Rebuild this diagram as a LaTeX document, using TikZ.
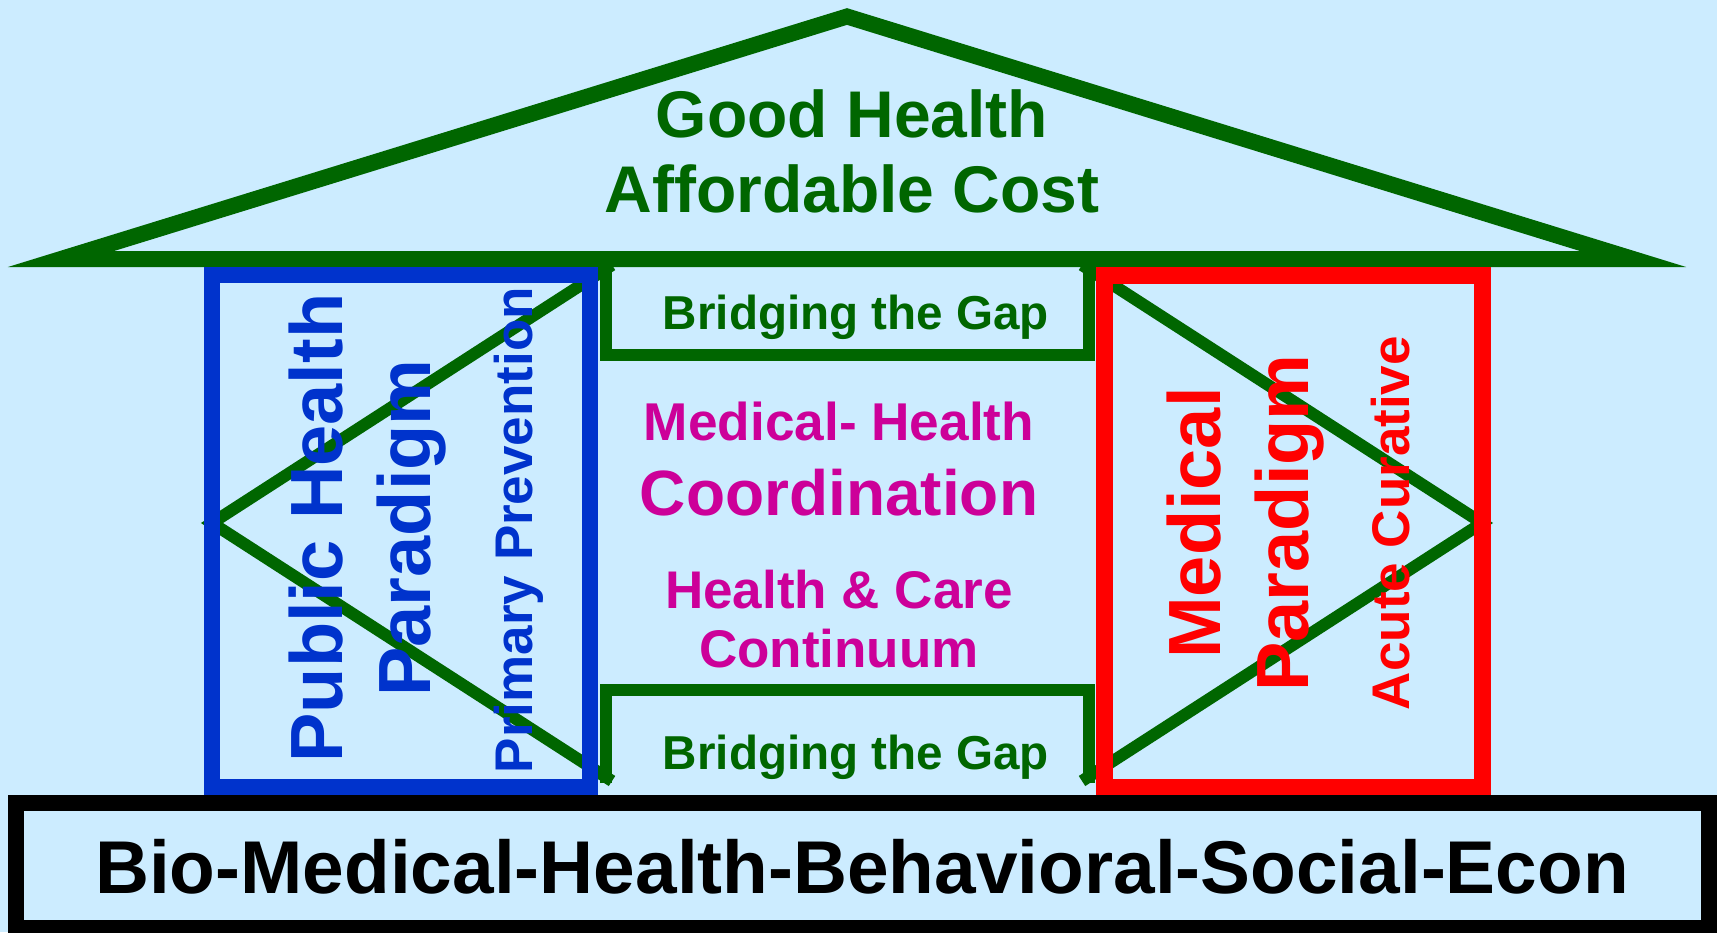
\documentclass[tikz,border=0pt]{standalone}
\usepackage{fontspec}
\setmainfont{Liberation Sans}
\definecolor{skybg}{RGB}{204,236,255}
\definecolor{roofgreen}{RGB}{0,102,0}
\definecolor{phblue}{RGB}{0,51,204}
\definecolor{medred}{RGB}{255,0,0}
\definecolor{coordmag}{RGB}{204,0,153}
\newcommand\pxfont[1]{\bfseries\fontsize{#1}{#1}\selectfont}
\tikzset{
  lbl/.style={anchor=base, inner sep=0pt},
  vlbl/.style={lbl, rotate=90},
  zig/.style={roofgreen, line width=6pt},
  bridge/.style={roofgreen, line width=6pt},
}
\begin{document}
\begin{tikzpicture}[x=0.5pt,y=-0.5pt]
\fill[skybg] (0,0) rectangle (1717,932);
\useasboundingbox (0,0) rectangle (1717,932);
\coordinate (phtop) at (612,265);
\coordinate (phtip) at (212,523);
\coordinate (phbot) at (612,781);
\coordinate (mdtop) at (1082,265);
\coordinate (mdtip) at (1482,523);
\coordinate (mdbot) at (1082,781);
\draw[zig] (phtop) -- (phtip) -- (phbot);
\draw[zig] (mdtop) -- (mdtip) -- (mdbot);
\draw[bridge] (606,259) -- (606,355) -- (1089,355) -- (1089,259);
\draw[bridge] (606,783) -- (606,690) -- (1089,690) -- (1089,783);
\coordinate (eaveL) at (61,259);
\coordinate (ridge) at (847,16.5);
\coordinate (eaveR) at (1633,259);
\draw[roofgreen, line width=8pt] (eaveL) -- (ridge) -- (eaveR) -- cycle;
\draw[phblue, line width=8pt] (212,275) rectangle (590,787);
\draw[medred, line width=8.5pt] (1104.5,275) rectangle (1482.5,787);
\draw[black, line width=8pt] (16,803) rectangle (1709,928);
\node[lbl, roofgreen, font=\pxfont{33}] (goodhealth) at (852,137) {Good Health};
\node[lbl, roofgreen, font=\pxfont{33}] (affcost) at (852,212) {Affordable Cost};
\node[lbl, roofgreen, font=\pxfont{23.8}] (gaptop) at (856,329) {Bridging the Gap};
\node[lbl, roofgreen, font=\pxfont{23.8}] (gapbot) at (856,769) {Bridging the Gap};
\node[lbl, coordmag, font=\pxfont{26.6}] (medhealth) at (839,440) {Medical- Health};
\node[lbl, coordmag, font=\pxfont{32}] (coord) at (839,515) {Coordination};
\node[lbl, coordmag, font=\pxfont{26.5}] (healthcare) at (839,608) {Health \& Care};
\node[lbl, coordmag, font=\pxfont{26.5}] (continuum) at (839,667) {Continuum};
\node[vlbl, phblue, font=\pxfont{37}] (pubhealth) at (342,528) {Public Health};
\node[vlbl, phblue, font=\pxfont{37}] (phparadigm) at (430,528) {Paradigm};
\node[vlbl, phblue, font=\pxfont{26.5}] (primprev) at (532,530) {Primary Prevention};
\node[vlbl, medred, font=\pxfont{37}] (medical) at (1220,523) {Medical};
\node[vlbl, medred, font=\pxfont{37}] (mdparadigm) at (1308,523) {Paradigm};
\node[vlbl, medred, font=\pxfont{26.5}] (acutecur) at (1409,523) {Acute Curative};
\node[lbl, black, font=\pxfont{37.4}] (biobase) at (862,893) {Bio-Medical-Health-Behavioral-Social-Econ};
\end{tikzpicture}
\end{document}
